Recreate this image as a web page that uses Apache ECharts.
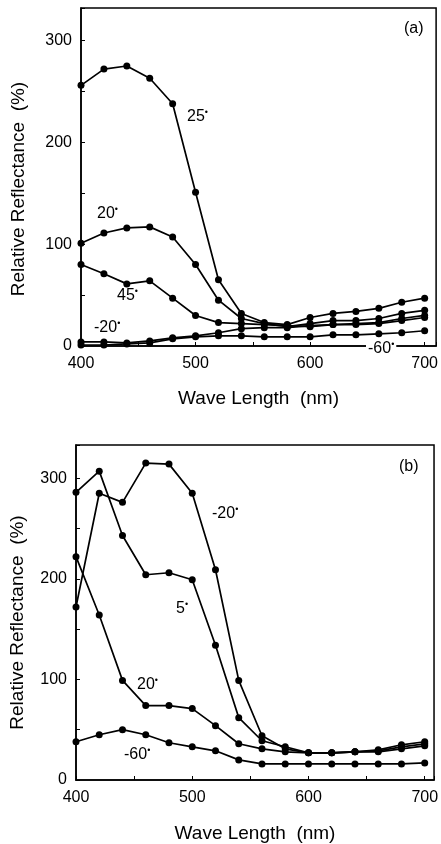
<!DOCTYPE html>
<html>
<head>
<meta charset="utf-8">
<script src="https://cdn.jsdelivr.net/npm/echarts@6/dist/echarts.min.js"></script>
<style>
html,body{margin:0;padding:0;background:#fff;}
#c{width:441px;height:844px;}
</style>
</head>
<body>
<div id="c"></div>
<script>
const wavelengths = [400,420,440,460,480,500,520,540,560,580,600,620,640,660,680,700];

// Panel (a)
const a_25  = [256,272,275,263,238,151,65,32,23,21,28,32,34,37,43,47];
const a_20  = [101,111,116,117,107,80,45,27,22,19,22,25,25,27,32,35];
const a_45  = [80,71,61,64,47,30,23,22,21,20,19,21,21,22,25,28];
const a_m20 = [4,4,3,5,8,10,13,17,18,18,20,21,22,23,27,30];
const a_m60 = [1,1,2,3,7,9,10,10,9,9,9,11,11,12,13,15];

// Panel (b)
const b_m20 = [172,285,276,315,314,285,209,99,44,31,27,27,28,30,35,38];
const b_5   = [286,307,243,204,206,199,134,62,39,33,27,27,28,29,33,36];
const b_20  = [222,164,99,74,74,71,54,36,31,28,27,27,28,28,31,34];
const b_m60 = [38,45,50,45,37,33,29,20,16,16,16,16,16,16,16,17];

const xTicks = [400,500,600,700];
const yTicks = [0,100,200,300];

const FONT = 'Liberation Sans';
const chart = echarts.init(document.getElementById('c'), null, {renderer:'canvas'});

function pairs(arr){ return arr.map((v,i)=>[wavelengths[i], v]); }
function ser(arr, gi){
  return {type:'line', xAxisIndex:gi, yAxisIndex:gi, data:pairs(arr),
    symbol:'circle', symbolSize:7, showSymbol:true,
    lineStyle:{color:'#000', width:1.7}, itemStyle:{color:'#000'},
    animation:false, z:3};
}
function xAx(gi, max, gap){
  return {type:'value', gridIndex:gi, min:400, max:max, interval:50,
    axisLine:{show:true, lineStyle:{color:'#000', width:1.5}},
    axisTick:{show:true, inside:true, length:4, lineStyle:{color:'#000'}},
    axisLabel:{margin:10, color:'#000', fontSize:16, fontFamily:FONT,
      formatter:v=> xTicks.indexOf(v)>=0 ? String(v) : ''},
    splitLine:{show:false},
    name:'Wave Length  (nm)', nameLocation:'middle', nameGap:gap,
    nameTextStyle:{color:'#000', fontSize:19, fontFamily:FONT}};
}
function yAx(gi, max, gap, shift){
  return {type:'value', gridIndex:gi, min:0, max:max, interval:50,
    axisLine:{show:true, lineStyle:{color:'#000', width:1.5}},
    axisTick:{show:true, inside:true, length:4, lineStyle:{color:'#000'}},
    axisLabel:{margin:9, color:'#000', fontSize:16, fontFamily:FONT,
      formatter:v=> yTicks.indexOf(v)>=0 ? String(v) : ''},
    splitLine:{show:false},
    name:'Relative Reflectance  (%)', nameLocation:'middle', nameGap:gap,
    nameTextStyle:{color:'#000', fontSize:19, fontFamily:FONT, padding:[0, shift, 0, 0]}};
}
function lbl(x, y, num, deg, bg){
  return {type:'text', left:x, top:y, z:10,
    style:{text: deg ? num + '{d|•}' : num, fill:'#000', font:'16px "'+FONT+'"',
      backgroundColor: bg ? '#fff' : undefined, padding: bg ? [0,2,0,2] : 0,
      rich:{d:{fontSize:9, fill:'#000', padding:[0,0,9,0], fontFamily:FONT}}}};
}

chart.setOption({
  animation:false,
  backgroundColor:'#fff',
  grid:[
    {left:81, top:8, width:362, height:338, show:true, borderColor:'#000', borderWidth:1.5},
    {left:73, top:445, width:362, height:341, show:true, borderColor:'#000', borderWidth:1.5}
  ],
  xAxis:[xAx(0, 710, 43), xAx(1, 708, 44)],
  yAxis:[yAx(0, 332, 53, 24), yAx(1, 333, 49, 20)],
  series:[
    ser(a_25,0), ser(a_20,0), ser(a_45,0), ser(a_m20,0), ser(a_m60,0),
    ser(b_m20,1), ser(b_5,1), ser(b_20,1), ser(b_m60,1)
  ],
  graphic:[
    {type:'text', left:404, top:21, style:{text:'(a)', fill:'#000', font:'16px "'+FONT+'"'}},
    lbl(187, 108, '25', true),
    lbl(97, 205, '20', true),
    lbl(117, 287, '45', true),
    lbl(94, 319, '-20', true),
    lbl(366, 340, '-60', true, true),
    {type:'text', left:399, top:459, style:{text:'(b)', fill:'#000', font:'16px "'+FONT+'"'}},
    lbl(212, 505, '-20', true),
    lbl(176, 600, '5', true),
    lbl(137, 676, '20', true),
    lbl(124, 746, '-60', true)
  ]
});
</script>
</body>
</html>
